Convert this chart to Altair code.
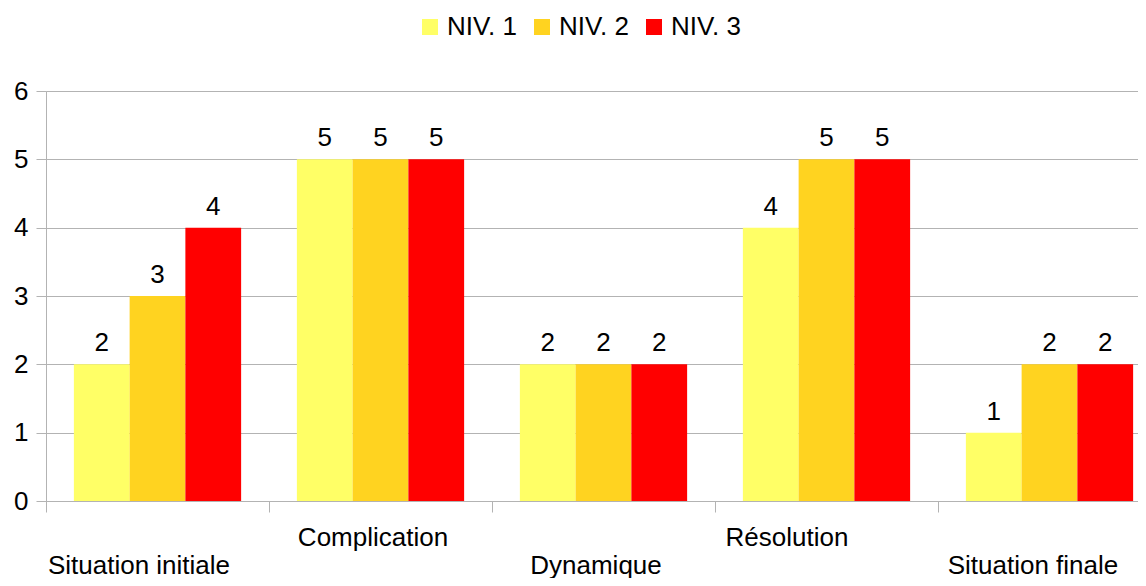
import altair as alt
import pandas as pd

categories = ["Situation initiale", "Complication", "Dynamique", "Résolution", "Situation finale"]
series = ["NIV. 1", "NIV. 2", "NIV. 3"]
niv1 = [2, 5, 2, 4, 1]
niv2 = [3, 5, 2, 5, 2]
niv3 = [4, 5, 2, 5, 2]
colors = ["#FFFF66", "#FFD320", "#FF0000"]
upper_row = ["Complication", "Résolution"]

rows = []
for s, vals in zip(series, [niv1, niv2, niv3]):
    for c, v in zip(categories, vals):
        rows.append({"cat": c, "niv": s, "val": v})
df = pd.DataFrame(rows)

FONT = "Liberation Sans"
GRID = "#b3b3b3"

label_expr = (
    "indexof(" + str(upper_row).replace("'", '"') + ", datum.value) >= 0"
    " ? [datum.label] : ['', datum.label]"
)

label_offset = {
    "condition": [
        {"test": "datum.value === 'Situation initiale'", "value": -19},
        {"test": "datum.value === 'Résolution'", "value": -40},
        {"test": "datum.value === 'Situation finale'", "value": -17},
    ],
    "value": -8,
}

x = alt.X(
    "cat:N",
    sort=categories,
    scale=alt.Scale(paddingInner=0, paddingOuter=0, range=[0, 1115]),
    axis=alt.Axis(
        title=None,
        labelAngle=0,
        tickBand="extent",
        grid=False,
        domainColor=GRID,
        tickColor=GRID,
        tickSize=11,
        labelFont=FONT,
        labelFontSize=26,
        labelColor="#000000",
        labelBaseline="top",
        labelPadding=12,
        labelLineHeight=28,
        labelLimit=0,
        labelOffset=label_offset,
        labelExpr=label_expr,
    ),
)
xo = alt.XOffset("niv:N", sort=series, scale=alt.Scale(paddingOuter=0.5, paddingInner=0))

y = alt.Y(
    "val:Q",
    scale=alt.Scale(domain=[0, 6], nice=False),
    axis=alt.Axis(
        title=None,
        values=[0, 1, 2, 3, 4, 5, 6],
        grid=True,
        gridColor=GRID,
        domainColor=GRID,
        tickColor=GRID,
        tickSize=10,
        labelFont=FONT,
        labelFontSize=26,
        labelColor="#000000",
        labelPadding=8,
    ),
)

color = alt.Color(
    "niv:N",
    sort=series,
    scale=alt.Scale(domain=series, range=colors),
    legend=alt.Legend(
        title=None,
        orient="none",
        direction="horizontal",
        legendX=371,
        legendY=-77,
        symbolType="square",
        symbolSize=256,
        symbolStrokeWidth=0,
        symbolOpacity=1,
        labelFont=FONT,
        labelFontSize=26,
        labelColor="#000000",
        labelOffset=4,
        columnPadding=12,
        padding=0,
    ),
)

bars = alt.Chart(df).mark_bar(opacity=1, strokeWidth=0).encode(x=x, xOffset=xo, y=y, color=color)
text = alt.Chart(df).mark_text(
    font=FONT, fontSize=26, color="#000000", baseline="alphabetic", dy=-13
).encode(x=x, xOffset=xo, y=y, text="val:Q")

chart = (
    alt.layer(bars, text)
    .properties(
        width=1092,
        height=410,
        autosize=alt.AutoSizeParams(type="none"),
        padding={"left": 38, "top": 83, "right": 0, "bottom": 77},
    )
    .configure_view(stroke=None)
    .configure(background="#ffffff")
)

chart.save("out.html", embed_options={"renderer": "svg", "actions": False})
